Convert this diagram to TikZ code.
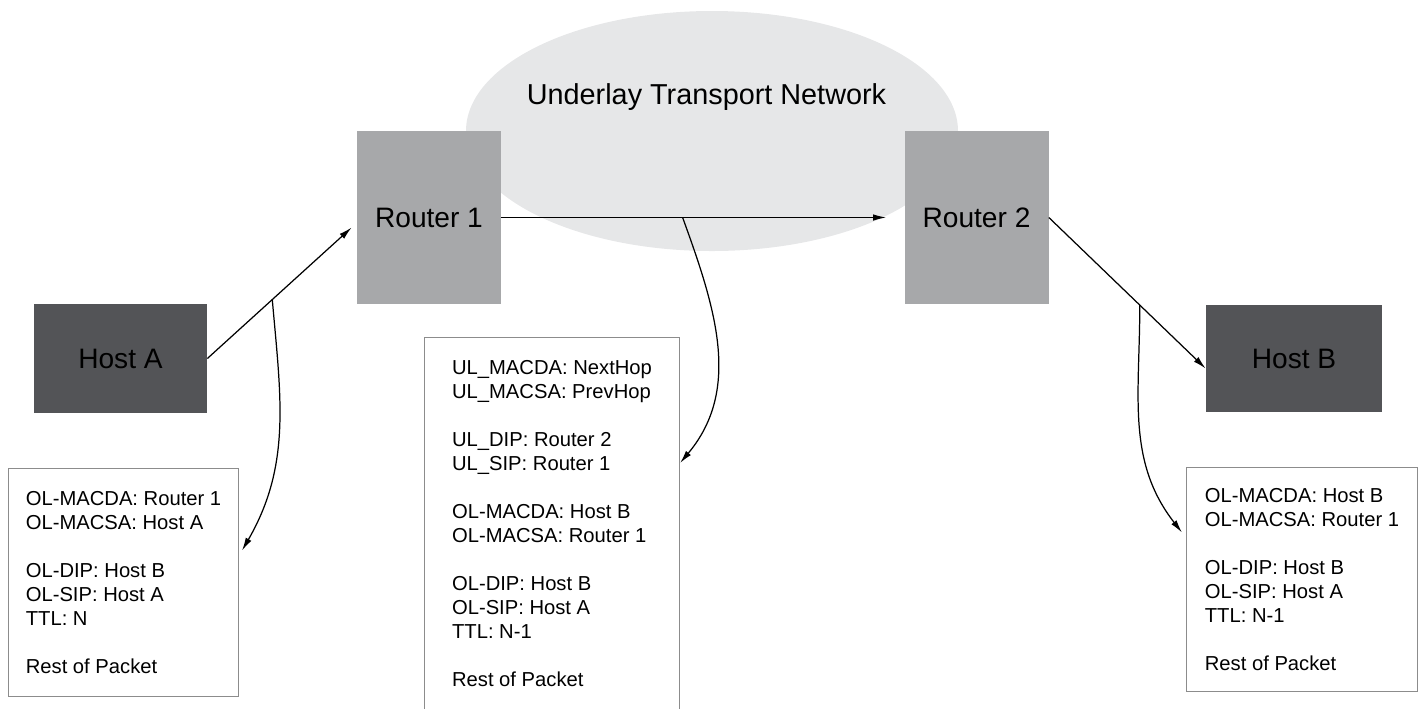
\documentclass[tikz,border=0pt]{standalone}
\usepackage{fontspec}
\setmainfont{Liberation Sans}
\usetikzlibrary{arrows.meta,positioning,shapes.geometric,calc}
\definecolor{cloudfill}{HTML}{E6E7E8}
\definecolor{routerfill}{HTML}{A7A8AA}
\definecolor{hostfill}{HTML}{535457}
\definecolor{boxline}{HTML}{8C8C8C}

\begin{document}
\begin{tikzpicture}[
  device/.style={inner sep=0pt, font=\fontsize{16}{19}\selectfont},
  router/.style={device, fill=routerfill, minimum width=2.88cm, minimum height=3.46cm},
  host/.style={device, fill=hostfill, minimum width=3.46cm, minimum height=2.18cm},
  packet/.style={draw=boxline, line width=0.6pt, fill=white, anchor=north west, align=left, inner xsep=0pt, font=\fontsize{11.5}{13.66}\selectfont},
  flow/.style={-{Latex[length=2.6mm,width=1.3mm]}, line width=0.7pt},
]
  \useasboundingbox (0,0) rectangle (28.54,-14.16);
  \clip (0,0) rectangle (28.54,-14.16);

  \node[ellipse, fill=cloudfill, minimum width=9.84cm, minimum height=4.8cm, inner sep=0pt] (underlay) at (14.24,-2.62) {};
  \node[font=\fontsize{16.4}{19}\selectfont] (underlaytxt) at (14.13,-1.94) {Underlay Transport Network};

  \node[router] (r1) at (8.58,-4.35) {Router 1};
  \node[router] (r2) at (19.53,-4.35) {Router 2};
  \node[host] (hA) at (2.41,-7.17) {Host A};
  \node[host, minimum width=3.52cm, minimum height=2.14cm] (hB) at (25.88,-7.17) {Host B};

  \node[packet, minimum width=4.6cm, minimum height=4.56cm] (pktA) at (0.16,-9.36) {OL-MACDA: Router 1\\OL-MACSA: Host A\\[13.66pt]OL-DIP: Host B\\OL-SIP: Host A\\TTL: N\\[13.66pt]Rest of Packet};
  \node[packet, minimum width=5.1cm, inner ysep=0.46cm] (pktMid) at (8.48,-6.74) {UL\_MACDA: NextHop\\UL\_MACSA: PrevHop\\[13.66pt]UL\_DIP: Router 2\\UL\_SIP: Router 1\\[13.66pt]OL-MACDA: Host B\\OL-MACSA: Router 1\\[13.66pt]OL-DIP: Host B\\OL-SIP: Host A\\TTL: N-1\\[13.66pt]Rest of Packet};
  \node[packet, minimum width=4.62cm, minimum height=4.48cm] (pktB) at (23.72,-9.34) {OL-MACDA: Host B\\OL-MACSA: Router 1\\[13.66pt]OL-DIP: Host B\\OL-SIP: Host A\\TTL: N-1\\[13.66pt]Rest of Packet};

  \coordinate (r1in) at ([xshift=-1mm,yshift=-2mm]r1.west);
  \coordinate (hBin) at ([yshift=-2mm]hB.west);
  \draw[flow] (hA.east) -- (r1in);
  \draw[flow, shorten >=3.6mm] (r1.east) -- (r2.west);
  \draw[flow] (r2.east) -- (hBin);

  \coordinate (tapA) at ($(hA.east)!0.45!(r1in)$);
  \coordinate (tapR) at ($(r1.east)!0.45!(r2.west)$);
  \coordinate (tapB) at ($(r2.east)!0.58!(hBin)$);
  \draw[flow] (tapA) to[out=-85, in=60] ([xshift=0.06cm, yshift=0.64cm]pktA.east);
  \draw[flow] (tapR) to[out=-70, in=50] ([yshift=-2.52cm]pktMid.north east);
  \draw[flow] (tapB) to[out=-90, in=128] ([xshift=-0.08cm, yshift=0.94cm]pktB.west);
\end{tikzpicture}
\end{document}
